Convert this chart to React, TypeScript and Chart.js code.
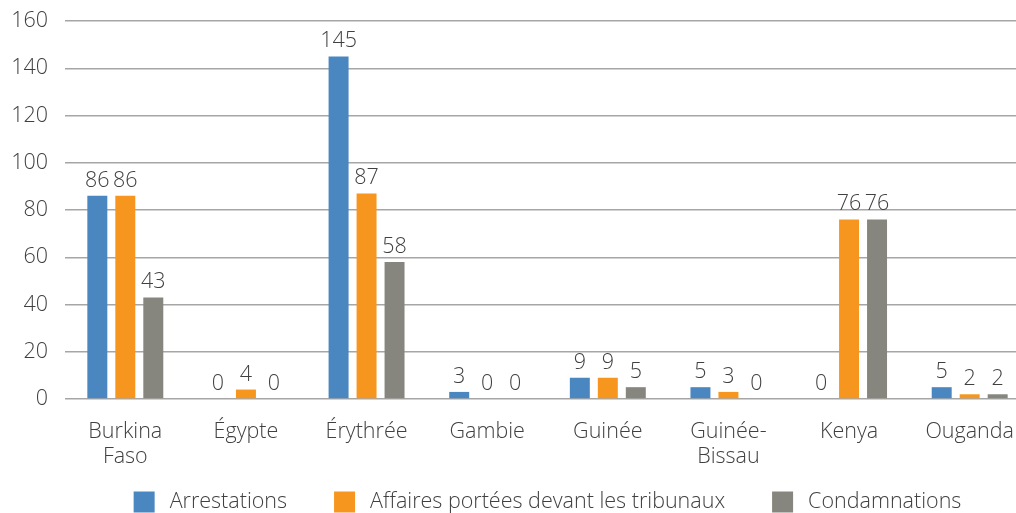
import { useEffect, useRef } from "react";
import { Chart, registerables } from "chart.js";

Chart.register(...registerables);

const categories: (string | string[])[] = [
  ["Burkina", "Faso"],
  "Égypte",
  "Érythrée",
  "Gambie",
  "Guinée",
  ["Guinée-", "Bissau"],
  "Kenya",
  "Ouganda",
];
const arrestations = [86, 0, 145, 3, 9, 5, 0, 5];
const affaires = [86, 4, 87, 0, 9, 3, 76, 2];
const condamnations = [43, 0, 58, 0, 5, 0, 76, 2];
const seriesNames = [
  "Arrestations",
  "Affaires portées devant les tribunaux",
  "Condamnations",
];
const yMin = 0;
const yMax = 160;
const yStep = 20;

const COLORS = ["#4a87c1", "#f7961e", "#86867e"];
const TEXT = "#404040";
const FAMILY = "'Open Sans', Lato, 'DejaVu Sans', sans-serif";
const WEIGHT = "300";
const SIZE = 21.5;

const valueLabels = {
  id: "valueLabels",
  afterDatasetsDraw(chart: any) {
    const ctx = chart.ctx;
    ctx.save();
    ctx.font = `${WEIGHT} ${SIZE}px ${FAMILY}`;
    ctx.fillStyle = TEXT;
    ctx.textAlign = "center";
    ctx.textBaseline = "alphabetic";
    chart.data.datasets.forEach((ds: any, i: number) => {
      const meta = chart.getDatasetMeta(i);
      meta.data.forEach((el: any, j: number) => {
        ctx.fillText(String(ds.data[j]), el.x, el.y - 9);
      });
    });
    ctx.restore();
  },
};

const bottomLegend = {
  id: "bottomLegend",
  afterDraw(chart: any) {
    const ctx = chart.ctx;
    const ca = chart.chartArea;
    ctx.save();
    ctx.font = `${WEIGHT} ${SIZE}px ${FAMILY}`;
    const box = 21;
    const gapText = 15;
    const gapItem = 47;
    const items = chart.data.datasets.map((ds: any) => ({
      label: ds.label,
      color: ds.backgroundColor,
      w: ctx.measureText(ds.label).width,
    }));
    const total =
      items.reduce((s: number, it: any) => s + box + gapText + it.w, 0) +
      gapItem * (items.length - 1);
    let x = (ca.left + ca.right) / 2 - total / 2;
    const yMid = chart.height - 11;
    ctx.textAlign = "left";
    ctx.textBaseline = "middle";
    items.forEach((it: any) => {
      ctx.fillStyle = it.color;
      ctx.fillRect(x, yMid - box / 2, box, box);
      ctx.fillStyle = TEXT;
      ctx.fillText(it.label, x + box + gapText, yMid);
      x += box + gapText + it.w + gapItem;
    });
    ctx.restore();
  },
};

export default function App() {
  const ref = useRef<HTMLCanvasElement | null>(null);

  useEffect(() => {
    if (!ref.current) return;
    const font = { family: FAMILY, size: SIZE, weight: WEIGHT as any, lineHeight: 25 / SIZE };
    const series = [arrestations, affaires, condamnations];
    const chart = new Chart(ref.current, {
      type: "bar",
      data: {
        labels: categories,
        datasets: series.map((d, i) => ({
          label: seriesNames[i],
          data: d,
          backgroundColor: COLORS[i],
          borderWidth: 0,
          barPercentage: 0.714,
          categoryPercentage: 0.696,
        })),
      },
      options: {
        responsive: false,
        animation: false,
        layout: { padding: { left: 8, right: 10, top: 21, bottom: 39 } },
        plugins: {
          legend: { display: false },
          tooltip: { enabled: false },
        },
        scales: {
          x: {
            grid: { display: false },
            border: { display: false },
            ticks: {
              color: TEXT,
              font,
              padding: 12,
              maxRotation: 0,
              autoSkip: false,
            },
            afterFit: (s: any) => {
              s.height = 75;
              s.paddingLeft = 0;
              s.paddingRight = 0;
            },
          },
          y: {
            min: yMin,
            max: yMax,
            ticks: { stepSize: yStep, color: TEXT, font, padding: 17 },
            grid: { color: "#a6a6a6", lineWidth: 1.5, drawTicks: false },
            border: { display: false },
            afterFit: (s: any) => {
              s.width = 57;
              s.paddingTop = 0;
              s.paddingBottom = 0;
            },
          },
        },
      },
      plugins: [valueLabels, bottomLegend],
    });
    return () => chart.destroy();
  }, []);

  return (
    <div
      style={{
        position: "absolute",
        left: 0,
        top: 0,
        width: 1016,
        height: 513,
        overflow: "hidden",
        background: "#fff",
      }}
    >
      <canvas
        ref={ref}
        width={1040}
        height={513}
        style={{ display: "block", width: 1040, height: 513 }}
      />
    </div>
  );
}
